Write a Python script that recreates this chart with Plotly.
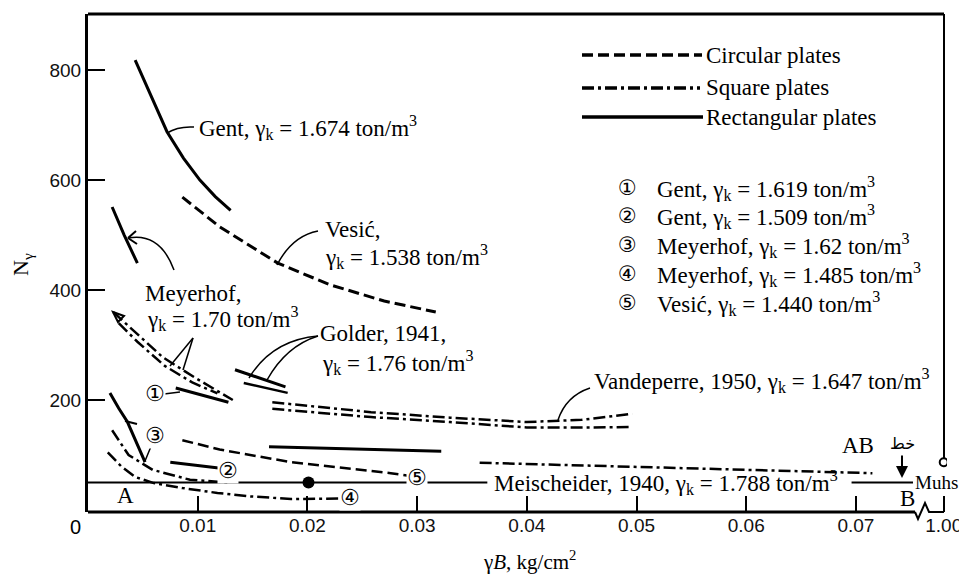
import plotly.graph_objects as go

# ---------------- data ----------------
gent1674_x = [0.0043, 0.0058, 0.0072, 0.0087, 0.0102, 0.0116, 0.0130]
gent1674_y = [818, 752, 688, 640, 600, 570, 545]

vesic1538_x = [0.0086, 0.0120, 0.0173, 0.0220, 0.0270, 0.0317]
vesic1538_y = [569, 515, 449, 410, 380, 360]

meyer170_rect_x = [0.0022, 0.0033, 0.0045]
meyer170_rect_y = [551, 500, 449]

meyer170_sqA_x = [0.0023, 0.0043, 0.0068, 0.0098, 0.0132]
meyer170_sqA_y = [360, 324, 278, 240, 200]
meyer170_sqB_x = [0.0028, 0.0045, 0.0070, 0.0095, 0.0118]
meyer170_sqB_y = [340, 306, 262, 232, 212]

gent1619_x = [0.0080, 0.0105, 0.0128]
gent1619_y = [222, 208, 196]

golderA_x = [0.0134, 0.0180]
golderA_y = [255, 224]
golderB_x = [0.0142, 0.0182]
golderB_y = [231, 213]

vandA_x = [0.0168, 0.0258, 0.0330, 0.0400, 0.0450, 0.0496]
vandA_y = [196, 178, 168, 160, 164, 175]
vandB_x = [0.0168, 0.0258, 0.0330, 0.0400, 0.0450, 0.0496]
vandB_y = [184, 169, 160, 150, 150, 151]

rect_flat_x = [0.0165, 0.0322]
rect_flat_y = [115, 107]

vesic1440_x = [0.0086, 0.0120, 0.0185, 0.0235, 0.0276, 0.0301]
vesic1440_y = [127, 110, 87, 76, 67, 60]

gent1509_x = [0.0075, 0.0121]
gent1509_y = [87, 76]

meyer162_rect_x = [0.0020, 0.0028, 0.0036, 0.0045, 0.0052]
meyer162_rect_y = [213, 185, 160, 120, 87]
meyer162_sq_x = [0.0022, 0.0037, 0.0059, 0.0093, 0.0128]
meyer162_sq_y = [145, 100, 73, 55, 50]

meyer1485_x = [0.0018, 0.0030, 0.0043, 0.0060, 0.0086, 0.0118, 0.0146, 0.0185, 0.0232]
meyer1485_y = [105, 80, 60, 49, 40, 31, 25, 20, 21]

sq_right_x = [0.0357, 0.0450, 0.0550, 0.0650, 0.0715]
sq_right_y = [86, 81, 76, 71, 67]

meisch_x = [0.0, 0.0752]
meisch_y = [50, 50]

dot_x = [0.0201]
dot_y = [50]

muhs_x = [1.00]
muhs_y = [87]

x_tickvals = [0.01, 0.02, 0.03, 0.04, 0.05, 0.06, 0.07]
x_ticktext = ["0.01", "0.02", "0.03", "0.04", "0.05", "0.06", "0.07"]
y_tickvals = [200, 400, 600, 800]
y_ticktext = ["200", "400", "600", "800"]

# ---------------- layout helpers ----------------
PAGE_W, PAGE_H = 967, 574
OFF = 8                         # default body margin of the html page
W, H = PAGE_W - OFF, PAGE_H - OFF
L, R, T, B = 88, 947, 14, 512   # plot area in page pixels
XMAX = 0.0783
YMIN, YMAX = -3.6, 902
BREAK_POS = 0.0780              # axis position where the value 1.00 is drawn
MEISCH_GAP = (0.0364, 0.0696)   # gap in the Meischeider line where its label sits


def bx(v):
    """broken axis: values >= 1 are drawn at the break position"""
    return [BREAK_POS if a >= 1 else a for a in v]


def P(x, y):
    return (x - L) / (R - L), (B - y) / (B - T)


SERIF = "Liberation Serif"
FS = 23
DASH_C = "11px,5px"
DASH_S = "12px,4px,3px,4px"

fig = go.Figure()


def line(x, y, dash="solid", width=3):
    fig.add_trace(go.Scatter(x=x, y=y, mode="lines", showlegend=False,
                             hoverinfo="skip",
                             line=dict(color="black", width=width, dash=dash)))


line(gent1674_x, gent1674_y)
line(vesic1538_x, vesic1538_y, DASH_C)
line(meyer170_rect_x, meyer170_rect_y)
line(meyer170_sqA_x, meyer170_sqA_y, DASH_S, 2.5)
line(meyer170_sqB_x, meyer170_sqB_y, DASH_S, 2.5)
line(gent1619_x, gent1619_y, "solid", 3)
line(golderA_x, golderA_y, "solid", 3)
line(golderB_x, golderB_y, "solid", 2.5)
line(vandA_x, vandA_y, DASH_S, 2.5)
line(vandB_x, vandB_y, DASH_S, 2.5)
line(rect_flat_x, rect_flat_y)
line(vesic1440_x, vesic1440_y, DASH_C, 2.5)
line(gent1509_x, gent1509_y)
line(meyer162_rect_x, meyer162_rect_y)
line(meyer162_sq_x, meyer162_sq_y, DASH_S, 2.5)
line(meyer1485_x, meyer1485_y, DASH_S, 2.5)
line(sq_right_x, sq_right_y, DASH_S, 2.5)
# Meischeider line, interrupted where its label is written
line([meisch_x[0], MEISCH_GAP[0], None, MEISCH_GAP[1], meisch_x[1]],
     [meisch_y[0], meisch_y[0], None, meisch_y[1], meisch_y[1]], "solid", 2)

fig.add_trace(go.Scatter(x=dot_x, y=dot_y, mode="markers", showlegend=False,
                         marker=dict(color="black", size=12, symbol="circle")))
fig.add_trace(go.Scatter(x=bx(muhs_x), y=muhs_y, mode="markers", showlegend=False,
                         marker=dict(color="white", size=8, symbol="circle",
                                     line=dict(color="black", width=2))))

shapes = []


def seg(x0, y0, x1, y1, w=2.5, dash="solid"):
    a, b = P(x0, y0)
    c, d = P(x1, y1)
    shapes.append(dict(type="line", xref="paper", yref="paper", x0=a, y0=b, x1=c, y1=d,
                       line=dict(color="black", width=w, dash=dash)))


def path(pts, w=1.5):
    s = ""
    for cmd, *xy in pts:
        coords = []
        for j in range(0, len(xy), 2):
            px_, py_ = P(xy[j], xy[j + 1])
            coords.append(f"{px_:.5f},{py_:.5f}")
        s += cmd + " " + " ".join(coords) + " "
    shapes.append(dict(type="path", xref="paper", yref="paper", path=s.strip(),
                       line=dict(color="black", width=w)))


# frame
seg(L, T, 944, T, 3)
seg(944, T, 944, 458, 2)
seg(944, 497, 944, B, 2)
seg(L, B, 915, B, 3)
path([("M", 915, 512), ("L", 918, 519), ("L", 925, 503), ("L", 929, 512), ("L", 944, 512)], 2)

# legend samples
seg(582, 55, 702, 55, 3.5, DASH_C)
seg(582, 88, 700, 88, 3.5, DASH_S)
seg(582, 117, 703, 117, 3.5)

# leaders
path([("M", 167, 133), ("Q", 178, 126, 194, 127)])
path([("M", 277, 265), ("Q", 292, 236, 318, 231)])
path([("M", 128, 238), ("Q", 160, 232, 174, 270)])
path([("M", 128, 238), ("L", 136, 231)], 2)
path([("M", 128, 238), ("L", 137, 244)], 2)
path([("M", 193, 338), ("L", 170, 366)])
path([("M", 193, 338), ("L", 183, 370)])
path([("M", 318, 336), ("Q", 272, 340, 249, 378)])
path([("M", 318, 336), ("Q", 286, 346, 267, 380)])
path([("M", 590, 388), ("Q", 566, 396, 558, 420)])
path([("M", 164, 394), ("L", 180, 392)])
path([("M", 152, 444), ("L", 145, 461)])
path([("M", 125, 421), ("L", 137, 424)], 2)
# arrowhead at the start of the Meyerhof square-plate curves
path([("M", 113, 312), ("L", 124, 316), ("L", 118, 322), ("Z",)], 2)

annotations = []


def txt(x, y, s, size=FS, anchor="left", family=SERIF, bg=None, angle=0):
    a, b = P(x, y)
    d = dict(x=a, y=b, xref="paper", yref="paper", text=s, showarrow=False,
             xanchor=anchor, yanchor="middle", textangle=angle,
             font=dict(family=family, size=size, color="black"))
    if bg:
        d["bgcolor"] = bg
        d["borderpad"] = 0
    annotations.append(d)


gk = "γ<sub>k</sub>"
m3 = "ton/m<sup>3</sup>"
txt(197, 127, f"Gent, {gk} = 1.674 {m3}")
txt(323, 230, "Vesić,")
txt(323, 256, f"{gk} = 1.538 {m3}")
txt(143, 293, "Meyerhof,")
txt(145, 318, f"{gk} = 1.70 {m3}")
txt(318, 333, "Golder, 1941,")
txt(320, 362, f"{gk} = 1.76 {m3}")
txt(592, 380, f"Vandeperre, 1950, {gk} = 1.647 {m3}")
txt(492, 483, f"Meischeider, 1940, {gk} = 1.788 {m3}")
txt(115, 495, "A")
txt(907, 498, "B", anchor="center")
txt(858, 445, "AB", anchor="center")
txt(902, 443, "خط", anchor="center", family="DejaVu Sans", size=16)
txt(913, 482, "Muhs", size=19)

txt(704, 55, "Circular plates")
txt(704, 88, "Square plates")
txt(704, 117, "Rectangular plates")

rows = [("①", f"Gent, {gk} = 1.619 {m3}", 188),
        ("②", f"Gent, {gk} = 1.509 {m3}", 216),
        ("③", f"Meyerhof, {gk} = 1.62 {m3}", 245),
        ("④", f"Meyerhof, {gk} = 1.485 {m3}", 274),
        ("⑤", f"Vesić, {gk} = 1.440 {m3}", 303)]
for c, s, yy in rows:
    txt(627, yy, c, size=21, anchor="center", family="DejaVu Sans")
    txt(655, yy, s)

# circled numbers on the plot
for c, xx, yy in [("①", 155, 393), ("②", 228, 470), ("③", 155, 435),
                  ("④", 350, 497), ("⑤", 417, 477)]:
    txt(xx, yy, c, size=22, anchor="center", family="DejaVu Sans", bg="white")

txt(75, 527, "0", size=20, anchor="center", family="Liberation Sans")
txt(22, 265, "N<sub>γ</sub>", size=22, anchor="center", angle=-90)
txt(529, 560, "γ<i>B</i>, kg/cm<sup>2</sup>", size=21, anchor="center")

# AB arrow
ax_, ay_ = P(902, 478)
annotations.append(dict(x=ax_, y=ay_, xref="paper", yref="paper", text="",
                        showarrow=True, arrowhead=2, arrowsize=1.2, arrowwidth=2,
                        ax=0, ay=-24, arrowcolor="black"))

fig.update_layout(
    width=W, height=H,
    margin=dict(l=L - OFF, r=PAGE_W - R, t=T - OFF, b=PAGE_H - B),
    paper_bgcolor="white", plot_bgcolor="white",
    shapes=shapes, annotations=annotations,
    xaxis=dict(range=[0, XMAX], showgrid=False, zeroline=False, showline=False,
               tickvals=x_tickvals + [BREAK_POS], ticktext=x_ticktext + ["1.00"],
               ticks="inside", ticklen=16, tickwidth=2, tickcolor="black",
               tickfont=dict(family="Liberation Sans", size=19, color="#111")),
    yaxis=dict(range=[YMIN, YMAX], showgrid=False, zeroline=False, showline=True,
               linecolor="black", linewidth=3,
               tickvals=y_tickvals, ticktext=y_ticktext,
               ticks="inside", ticklen=17, tickwidth=2, tickcolor="black",
               tickfont=dict(family="Liberation Sans", size=19, color="#111")),
)

fig.write_html("out.html")
